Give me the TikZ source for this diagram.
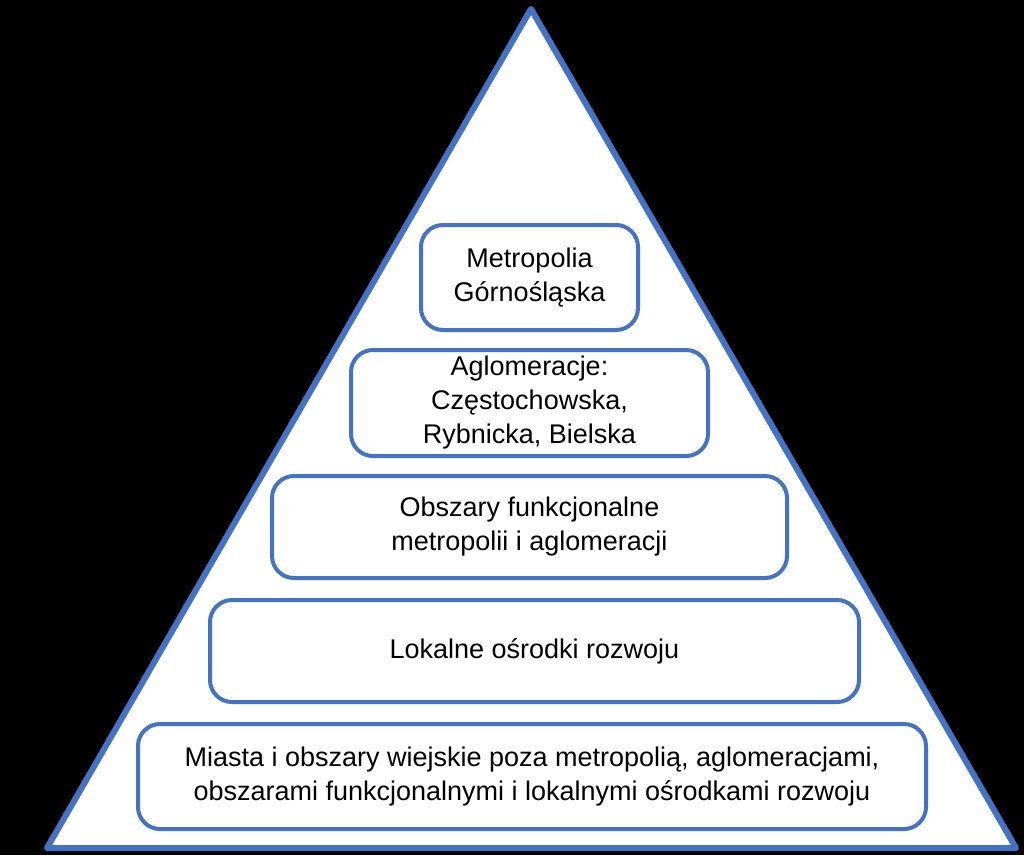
\documentclass[tikz,border=0pt]{standalone}
\usepackage{fontspec}
\setmainfont{Liberation Sans}
\usetikzlibrary{positioning}
\definecolor{PyrBlue}{HTML}{4472C4}

\begin{document}
\begin{tikzpicture}[x=1pt,y=-1pt,node distance=16pt,
    level/.style={draw=PyrBlue,line width=4pt,fill=white,rounded corners=22pt,
                  align=center,font=\fontsize{27}{34}\selectfont,inner sep=0pt}]
    \fill[black] (0,0) rectangle (1024,855);
    \draw[PyrBlue,line width=6pt,fill=white,line join=round] (531,9) -- (1016,848) -- (47,848) -- cycle;
    \node[level, minimum width=217pt, minimum height=105pt] (l1) at (529.5,277.5) {Metropolia\\Górnośląska};
    \node[level, minimum width=357pt, minimum height=106pt, below=16pt of l1] (l2) {Aglomeracje:\\Częstochowska,\\Rybnicka, Bielska};
    \node[level, minimum width=515pt, minimum height=102pt, below=16pt of l2] (l3) {Obszary funkcjonalne\\metropolii i aglomeracji};
    \node[level, minimum width=649pt, minimum height=102pt, below=18pt of l3, xshift=5pt] (l4) {Lokalne ośrodki rozwoju};
    \node[level, minimum width=788pt, minimum height=105pt, below=18pt of l4, xshift=-2.5pt] (l5) {Miasta i obszary wiejskie poza metropolią, aglomeracjami,\\obszarami funkcjonalnymi i lokalnymi ośrodkami rozwoju};
  \end{tikzpicture}
\end{document}
